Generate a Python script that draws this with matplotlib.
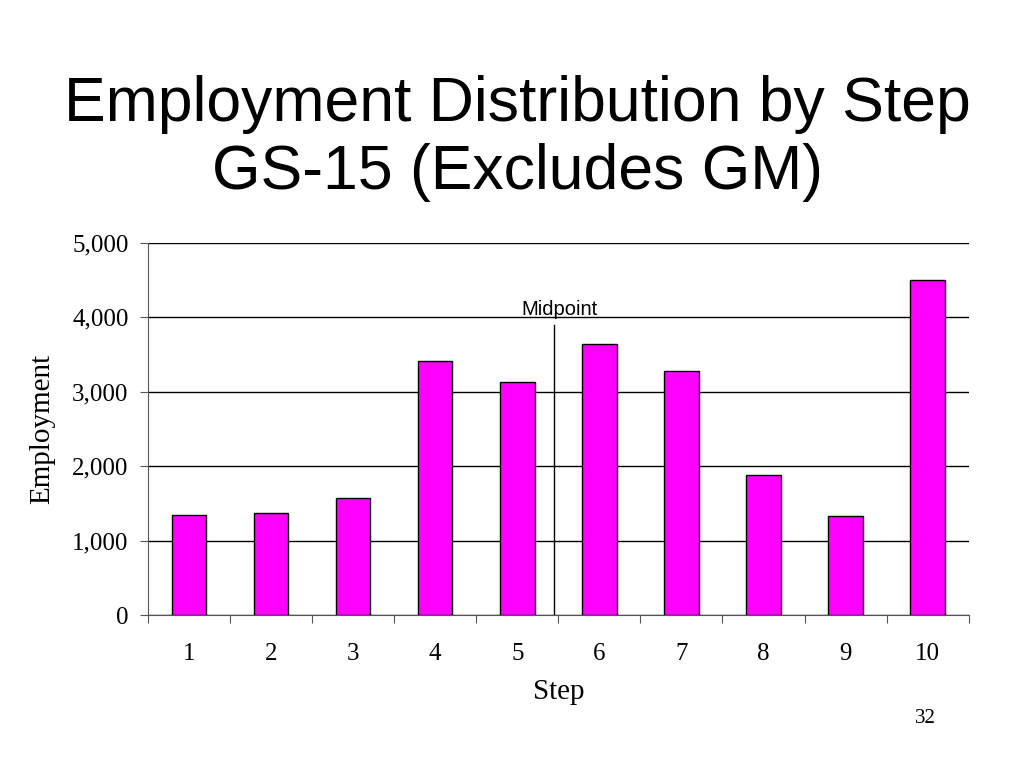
import matplotlib
matplotlib.use('Agg')
import matplotlib.pyplot as plt

steps = ['1', '2', '3', '4', '5', '6', '7', '8', '9', '10']
employment = [1345, 1372, 1573, 3414, 3132, 3642, 3280, 1882, 1331, 4503]
midpoint_pos = 4.45  # between step 5 and 6

fig = plt.figure(figsize=(10.24, 7.68), dpi=100)
ax = fig.add_axes([0.1445, 0.1992, 0.8015, 0.4844])

x = range(len(steps))
ax.bar(x, employment, width=0.42, color='#FF00FF', edgecolor='black', linewidth=1, zorder=3)

ax.set_xlim(-0.5, len(steps) - 0.5)
ax.set_ylim(0, 5000)
ax.set_yticks(range(0, 5001, 1000))
ax.set_yticklabels([f'{v:,}' for v in range(0, 5001, 1000)])
ax.yaxis.grid(True, color='black', linewidth=1)
ax.set_axisbelow(True)

# x ticks at category boundaries, labels in the middle
ax.set_xticks([i - 0.5 for i in range(len(steps) + 1)])
ax.set_xticklabels([])
ax.set_xticks(list(x), minor=True)
ax.set_xticklabels(steps, minor=True)
ax.tick_params(axis='x', which='major', direction='out', length=6, color='#555555')
ax.tick_params(axis='x', which='minor', length=0, pad=20)
ax.tick_params(axis='y', direction='out', length=6, color='#555555', pad=8)

for lbl in ax.get_xticklabels(minor=True) + ax.get_yticklabels():
    lbl.set_fontfamily('Liberation Serif')
    lbl.set_fontsize(18)

for s in ['top', 'right']:
    ax.spines[s].set_visible(False)
ax.spines['left'].set_color('#555555')
ax.spines['bottom'].set_color('#555555')

ax.set_xlabel('Step', fontfamily='Liberation Serif', fontsize=21, labelpad=10)
ax.set_ylabel('Employment', fontfamily='Liberation Serif', fontsize=21, labelpad=12)

# midpoint marker
ax.plot([midpoint_pos, midpoint_pos], [0, 3900], color='black', linewidth=1, zorder=4)
ax.text(midpoint_pos + 0.07, 3980, 'Midpoint', ha='center', va='bottom',
        fontfamily='Liberation Sans', fontsize=14.5)

fig.text(0.505, 0.82, 'Employment Distribution by Step\nGS-15 (Excludes GM)',
         ha='center', va='center', fontfamily='Liberation Sans', fontsize=45,
         linespacing=1.2)
fig.text(0.904, 0.065, '32', ha='center', va='center',
         fontfamily='Liberation Serif', fontsize=15)

fig.savefig('out.png', dpi=100)
